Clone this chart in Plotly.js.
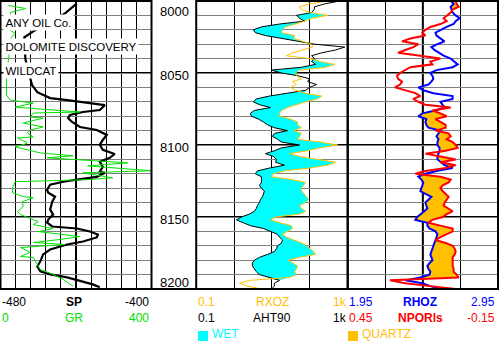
<!DOCTYPE html>
<html>
<head>
<meta charset="utf-8">
<script src="https://cdn.plot.ly/plotly-3.0.1.min.js"></script>
<style>html,body{margin:0;padding:0;background:#fff;}#chart{width:499px;height:341px;}</style>
</head>
<body>
<div id="chart"></div>
<script>
// ---------- DATA ----------
// Track 1: SP (mV) and GR (API)
const spDepth = [8001.7,8008.6,8021.1,8025.2,8040.5,8043.2,8055.0,8058.4,8063.3,8067.4,8068.8,8070.2,8071.6,8072.3,8075.7,8077.1,8079.2,8081.3,8084.0,8087.5,8089.6,8093.0,8096.5,8099.9,8103.4,8106.2,8108.9,8111.7,8115.1,8118.6,8119.3,8122.1,8124.1,8125.5,8127.6,8131.1,8133.1,8135.9,8139.4,8144.9,8148.3,8151.8,8153.9,8156.6,8158.0,8160.1,8162.2,8164.2,8167.0,8169.1,8172.6,8176.0,8180.8,8184.3,8187.8,8189.8,8191.9,8194.7,8196.8,8198.8];
const sp = [-439.5,-445.8,-462.6,-467.4,-466.8,-466.3,-463.7,-463.3,-460.5,-453.7,-444.7,-436.3,-429.0,-424.7,-427.4,-436.3,-443.2,-444.2,-442.1,-437.9,-429.0,-423.7,-425.8,-427.4,-425.8,-419.5,-422.1,-427.4,-425.8,-427.4,-424.7,-429.0,-439.5,-446.8,-453.7,-455.3,-454.7,-451.1,-452.6,-453.7,-452.1,-454.7,-455.3,-452.6,-439.5,-432.6,-428.4,-429.0,-436.3,-444.7,-453.7,-457.4,-458.9,-460.5,-458.9,-453.7,-444.7,-436.3,-431.1,-427.4];
const grDepth = [8003.1,8005.2,8008.0,8020.4,8022.5,8025.2,8041.1,8052.9,8065.4,8068.8,8070.9,8073.7,8077.1,8077.8,8080.6,8081.3,8084.7,8087.5,8089.6,8091.6,8094.4,8095.1,8098.5,8099.2,8101.3,8105.5,8107.5,8108.9,8112.4,8114.5,8117.9,8119.3,8122.8,8124.1,8125.5,8129.7,8133.1,8135.9,8136.6,8139.4,8142.8,8146.3,8148.3,8150.4,8153.2,8155.3,8158.0,8160.1,8163.6,8165.6,8167.7,8169.1,8171.2,8174.6,8177.4,8178.1,8182.9,8186.4,8189.8,8193.3,8198.1];
const gr = [21,66,26,26,39,29,21,16,16,26,87,39,210,87,79,113,60,113,79,71,87,45,71,66,39,105,192,124,337,231,400,218,297,229,39,32,32,60,87,58,60,45,53,74,100,87,139,100,210,158,87,171,53,79,53,87,97,105,139,166,192];

// Tracks 2 and 3 sampled on a common depth grid (ft)
const depth = [8000,8002,8004,8006,8008,8010,8012,8014,8016,8018,8020,8022,8024,8026,8028,8030,8032,8034,8036,8038,8040,8042,8044,8046,8048,8050,8052,8054,8056,8058,8060,8062,8064,8066,8068,8070,8072,8074,8076,8078,8080,8082,8084,8086,8088,8090,8092,8094,8096,8098,8100,8102,8104,8106,8108,8110,8112,8114,8116,8118,8120,8122,8124,8126,8128,8130,8132,8134,8136,8138,8140,8142,8144,8146,8148,8150,8152,8154,8156,8158,8160,8162,8164,8166,8168,8170,8172,8174,8176,8178,8180,8182,8184,8186,8188,8190,8192,8194,8196,8198,8200];
const aht90 = [616,246,134,130,111,44.6,53.6,72.7,15.8,5.27,
 3.23,3.65,6.73,17.9,44.6,134,836,482,205,111,
 134,111,142,60.5,9.7,17.9,50.4,98.6,87.3,151,
 98.6,77.3,25.8,8.6,3.89,3.23,4.67,9.1,3.44,2.69,
 2.86,4.39,5.95,7.6,11.6,25.8,11.6,10.3,14.0,17.9,
 53.6,17.9,11.6,6.73,10.96,13.2,12.4,21.4,8.6,4.13,
 3.65,5.27,5.27,5.27,4.67,5.27,6.33,5.95,5.6,4.96,
 4.67,4.13,3.89,3.44,2.53,1.56,1.15,1.76,2.69,5.95,
 9.1,14.0,15.8,19.0,17.9,14.0,13.2,11.6,7.6,4.67,
 3.44,3.04,3.04,3.44,3.89,4.67,8.6,15.8,11.6,11.6,
 9.7];
const rxoz = [296,98.6,53.6,60,105,296,111,72.7,42,22.8,
 19.0,17.9,39.5,37.2,64.3,111,118,64.3,35.0,24.2,
 98.6,181,454,262,53.6,42,44.6,60.5,35.0,44.6,
 30.9,42,72.7,205,161,77.3,44.6,25.8,17.9,15.8,
 15.8,30.9,47.4,47.4,60.5,37.2,60.5,53.6,47.4,181,
 545,181,87.3,29.1,53.6,161,482,296,98.6,21.4,
 10.96,9.7,32.9,77.3,68.4,60.5,60.5,72.7,82.1,92.8,
 77.3,53.6,60.5,77.3,53.6,12.4,9.1,15.8,32.9,35.0,
 25.8,19.0,24.2,37.2,60.5,82.1,104.7,126,142,53.6,
 27,37.2,47.4,44.6,39.5,44.6,29.1,2.53,1.38,2.25,
 5.27];
const rhoz = [2.635,2.655,2.635,2.641,2.648,2.668,2.695,2.668,2.655,2.608,
 2.567,2.534,2.541,2.567,2.594,2.547,2.507,2.527,2.554,2.588,
 2.635,2.661,2.682,2.648,2.541,2.500,2.514,2.520,2.507,2.487,
 2.420,2.453,2.520,2.648,2.648,2.567,2.581,2.594,2.534,2.447,
 2.420,2.473,2.467,2.473,2.487,2.567,2.554,2.541,2.554,2.547,
 2.547,2.561,2.561,2.554,2.547,2.547,2.567,2.594,2.648,2.541,
 2.467,2.420,2.440,2.453,2.447,2.440,2.433,2.467,2.507,2.487,
 2.467,2.473,2.480,2.460,2.433,2.413,2.400,2.480,2.480,2.494,
 2.534,2.547,2.541,2.534,2.527,2.520,2.514,2.507,2.500,2.507,
 2.514,2.494,2.480,2.487,2.500,2.494,2.433,2.333,2.447,2.500,
 2.567];
const nporls = [0.019,0.015,0.007,0.031,0.039,0.051,0.067,0.055,0.080,0.120,
 0.140,0.152,0.140,0.200,0.233,0.168,0.188,0.220,0.249,0.160,
 0.080,0.120,0.112,0.200,0.220,0.241,0.253,0.249,0.233,0.241,
 0.261,0.220,0.180,0.160,0.188,0.168,0.140,0.039,0.112,0.080,
 0.055,0.100,0.080,0.059,0.059,0.100,0.047,0.039,0.055,0.031,
 0.019,0.011,0.059,0.140,0.080,0.019,0.080,0.019,0.059,0.140,
 0.180,0.080,0.039,0.047,0.071,0.080,0.071,0.059,0.047,0.055,
 0.063,0.067,0.051,0.031,0.055,0.071,0.112,0.128,0.080,0.031,
 0.031,0.059,0.080,0.100,0.059,0.031,0.023,0.019,0.023,0.031,
 0.031,0.031,0.031,0.027,0.027,0.015,0.007,0.281,0.220,0.120,
 0.019];

// Text
const headerLines = ['ANY OIL Co.', 'DOLOMITE DISCOVERY', 'WILDCAT'];
const depthTicks = [8000, 8050, 8100, 8150, 8200];
const depthLabels = ['8000', '8050', '8100', '8150', '8200'];
const spScale = ['-480', 'SP', '-400'];
const grScale = ['0', 'GR', '400'];
const rxozScale = ['0.1', 'RXOZ', '1k'];
const ahtScale = ['0.1', 'AHT90', '1k'];
const rhozScale = ['1.95', 'RHOZ', '2.95'];
const nporScale = ['0.45', 'NPORls', '-0.15'];
const fillNames = ['WET', 'QUARTZ'];

// ---------- STYLE ----------
const C = {gold:'#ffc000', green:'#00e000', cyan:'#00ffff', blue:'#0000ff', red:'#ff0000', black:'#000000', grey:'#808080'};
const FONT = 'Liberation Sans, Arial, sans-serif';
const W = 498, TOP = 1, BOT = 289;
const px = v => v / W;
const py = v => (BOT - v) / (BOT - TOP);
const T1 = [0.5, 151.5], TD = [151.5, 196.2], T2 = [196.2, 347.7], T3 = [347.7, 498];

// ---------- TRACES ----------
const rev = a => a.slice().reverse();
const wetRight = aht90.map((v, i) => Math.max(v, rxoz[i]));
const nporOnRhoz = nporls.map(n => 1.95 + (0.45 - n) / 0.6);   // NPOR axis mapped onto RHOZ axis (same pixels)
const quartzRight = rhoz.map((v, i) => Math.max(v, nporOnRhoz[i]));

const traces = [
  {x: aht90.concat(rev(wetRight)), y: depth.concat(rev(depth)), xaxis:'x3', yaxis:'y', type:'scatter', mode:'lines', fill:'toself', fillcolor:C.cyan, line:{width:0}, hoverinfo:'skip'},
  {x: rhoz.concat(rev(quartzRight)), y: depth.concat(rev(depth)), xaxis:'x4', yaxis:'y', type:'scatter', mode:'lines', fill:'toself', fillcolor:C.gold, line:{width:0}, hoverinfo:'skip'},
  {x: gr, y: grDepth, xaxis:'x2', yaxis:'y', type:'scatter', mode:'lines', line:{color:C.green, width:1}},
  {x: sp, y: spDepth, xaxis:'x', yaxis:'y', type:'scatter', mode:'lines', line:{color:C.black, width:2.2}},
  {x: aht90, y: depth, xaxis:'x3', yaxis:'y', type:'scatter', mode:'lines', line:{color:C.black, width:1}},
  {x: rxoz, y: depth, xaxis:'x3', yaxis:'y', type:'scatter', mode:'lines', line:{color:C.gold, width:1}},
  {x: rhoz, y: depth, xaxis:'x4', yaxis:'y', type:'scatter', mode:'lines', line:{color:C.blue, width:2}},
  {x: nporls, y: depth, xaxis:'x5', yaxis:'y', type:'scatter', mode:'lines', line:{color:C.red, width:2}}
];

// ---------- AXES ----------
const hidden = {showticklabels:false, ticks:'', zeroline:false, showline:false, fixedrange:true};
const layout = {
  width:499, height:341,
  margin:{l:0, r:1, t:TOP, b:341-BOT, pad:0},
  paper_bgcolor:'#fff', plot_bgcolor:'#fff', showlegend:false,
  xaxis: Object.assign({domain:[px(T1[0]), px(T1[1])], range:[-480,-400], tick0:-480, dtick:8, showgrid:true, gridcolor:C.black, gridwidth:1}, hidden),
  xaxis2: Object.assign({overlaying:'x', anchor:'y', range:[0,400], showgrid:false}, hidden),
  xaxis3: Object.assign({domain:[px(T2[0]), px(T2[1])], anchor:'y', type:'log', range:[-1,3], dtick:1, showgrid:true, gridcolor:C.black, gridwidth:1}, hidden),
  xaxis4: Object.assign({domain:[px(T3[0]), px(T3[1])], anchor:'y', range:[1.95,2.95], tick0:1.95, dtick:0.25, showgrid:true, gridcolor:C.black, gridwidth:1}, hidden),
  xaxis5: Object.assign({overlaying:'x4', anchor:'y', range:[0.45,-0.15], showgrid:false}, hidden),
  yaxis: Object.assign({range:[8200,8000], tick0:8000, dtick:10, showgrid:true, gridcolor:C.grey, gridwidth:1}, hidden),
  shapes: [], annotations: []
};

// Heavy 50-ft lines inside each track
[T1, T2, T3].forEach(t => {
  depthTicks.slice(1, -1).forEach(d => layout.shapes.push({type:'line', xref:'paper', yref:'y', x0:px(t[0]), x1:px(t[1]), y0:d, y1:d, line:{color:C.black, width:2}, layer:'below'}));
});
// Track borders and centre lines
[T1, T2, T3].forEach(t => layout.shapes.push({type:'rect', xref:'paper', yref:'paper', x0:px(t[0]), x1:px(t[1]), y0:0, y1:1, line:{color:C.black, width:2}, layer:'above'}));
layout.shapes.push({type:'line', xref:'paper', yref:'paper', x0:px(TD[0]), x1:px(TD[1]), y0:0, y1:0, line:{color:C.black, width:2}, layer:'above'});
layout.shapes.push({type:'line', xref:'x', yref:'paper', x0:-440, x1:-440, y0:0, y1:1, line:{color:C.black, width:2}, layer:'below'});
layout.shapes.push({type:'line', xref:'x4', yref:'paper', x0:2.45, x1:2.45, y0:0, y1:1, line:{color:C.black, width:2}, layer:'below'});

// Header boxes in track 1
const headerY = [23, 46.5, 70];
headerLines.forEach((t, i) => layout.annotations.push({text:t, xref:'paper', yref:'paper', x:px(3), y:py(headerY[i]), xanchor:'left', yanchor:'middle', showarrow:false, bgcolor:'#fff', borderpad:1.5, font:{family:FONT, size:11.5, color:C.black}}));

// Depth labels (kept inside the plot at the top/bottom)
depthTicks.forEach((d, i) => {
  let yy = d + 1.4;
  if (d === 8000) yy = 8007.5;
  if (d === 8200) yy = 8195.5;
  layout.annotations.push({text:depthLabels[i], xref:'paper', yref:'y', x:px(174), y:yy, xanchor:'center', yanchor:'middle', showarrow:false, font:{family:FONT, size:13, color:C.black}});
});

// Scale rows under the tracks
function scaleRow(labels, color, boldMid, xl, xm, xr, rowY) {
  const f = () => ({family:FONT, size:12, color:color});
  layout.annotations.push({text:labels[0], xref:'paper', yref:'paper', x:px(xl), y:py(rowY), xanchor:'left', yanchor:'middle', showarrow:false, borderpad:0, font:f()});
  layout.annotations.push({text:boldMid ? '<b>'+labels[1]+'</b>' : labels[1], xref:'paper', yref:'paper', x:px(xm), y:py(rowY), xanchor:'center', yanchor:'middle', showarrow:false, borderpad:0, font:f()});
  layout.annotations.push({text:labels[2], xref:'paper', yref:'paper', x:px(xr), y:py(rowY), xanchor:'right', yanchor:'middle', showarrow:false, borderpad:0, font:f()});
}
const R1 = 302, R2 = 318, R3 = 334;
scaleRow(spScale, C.black, true, 1, 74, 150, R1);
scaleRow(grScale, C.green, false, 1, 74, 150, R2);
scaleRow(rxozScale, C.gold, false, 197, 272, 347.5, R1);
scaleRow(ahtScale, C.black, false, 197, 272, 347.5, R2);
scaleRow(rhozScale, C.blue, true, 347.5, 420, 496, R1);
scaleRow(nporScale, C.red, true, 347.5, 420, 496, R2);

// Fill keys
const keys = [[198, C.cyan], [348, C.gold]];
keys.forEach((k, i) => {
  layout.shapes.push({type:'rect', xref:'paper', yref:'paper', x0:px(k[0]), x1:px(k[0]+10), y0:py(341), y1:py(331), fillcolor:k[1], line:{width:0}});
  layout.annotations.push({text:fillNames[i], xref:'paper', yref:'paper', x:px(k[0]+13), y:py(R3), xanchor:'left', yanchor:'middle', showarrow:false, borderpad:0, font:{family:FONT, size:12, color:k[1]}});
});

Plotly.newPlot('chart', traces, layout, {staticPlot:true, displayModeBar:false});
</script>
</body>
</html>
